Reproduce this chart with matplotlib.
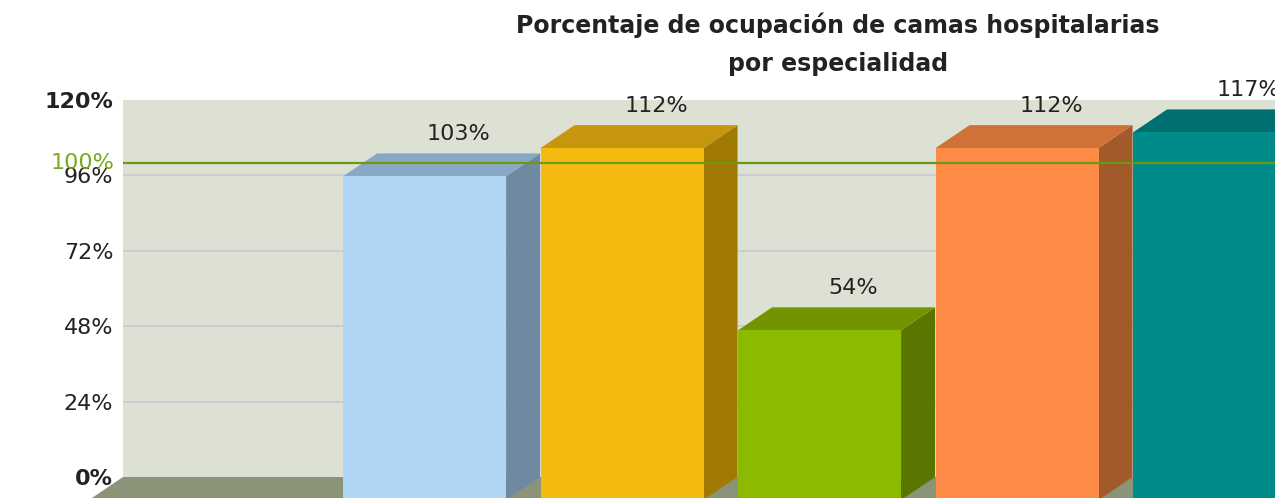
import matplotlib
matplotlib.use("Agg")
import matplotlib.pyplot as plt
from matplotlib.patches import Polygon, Rectangle
import numpy as np

# data (first slot of the chart is empty)
values = [103, 112, 54, 112, 117]
value_labels = ["103%", "112%", "54%", "112%", "117%"]
y_ticks = [0, 24, 48, 72, 96, 120]
y_tick_labels = ["0%", "24%", "48%", "72%", "96%", "120%"]
target = 100
title = "Porcentaje de ocupación de camas hospitalarias\npor especialidad"

front_colors = ["#b0d6f6", "#f5ba10", "#8cba00", "#ff8c46", "#008b8b"]
top_colors = ["#88a9c6", "#c8960c", "#739400", "#d0713a", "#006f6f"]
side_colors = ["#6f8aa0", "#a07a05", "#587600", "#a35a2b", "#005c5c"]

wall_color = "#dce1d4"
floor_color = "#8a9478"
grid_color = "#c8c8d0"
target_color = "#6b9a12"

fig = plt.figure(figsize=(12.75, 4.98), dpi=100)
ax = fig.add_axes([123 / 1275, 21 / 498, 1 - 123 / 1275, 377 / 498])

xmin, xmax = -0.699, 5.134
ax.set_xlim(xmin, xmax)
ax.set_ylim(0, 120)

# depth offset of the 3D look (in data units)
dx, dy = -0.172, -7.3
half = 0.4127

ax.add_patch(Rectangle((xmin, 0), xmax - xmin, 120, facecolor=wall_color,
                       edgecolor="none", zorder=0))
ax.hlines([t for t in y_ticks if 0 < t < 120], xmin, xmax, colors=grid_color,
          linewidth=1.2, zorder=1)

# floor
ax.add_patch(Polygon([(xmin, 0), (xmax + 1, 0), (xmax + 1 + dx, dy), (xmin + dx, dy)],
                     closed=True, facecolor=floor_color, edgecolor="none",
                     zorder=2, clip_on=False))

positions = np.arange(1, len(values) + 1)
for c, v, fc, tc, sc, lab in zip(positions, values, front_colors, top_colors,
                                 side_colors, value_labels):
    l, r = c - half, c + half
    side = Polygon([(r + dx, dy), (r + dx, v + dy), (r, v), (r, 0)], closed=True,
                   facecolor=sc, edgecolor="none", zorder=3, clip_on=False)
    top = Polygon([(l + dx, v + dy), (r + dx, v + dy), (r, v), (l, v)], closed=True,
                  facecolor=tc, edgecolor="none", zorder=3, clip_on=False)
    front = Rectangle((l + dx, dy), r - l, v, facecolor=fc, edgecolor="none",
                      zorder=4, clip_on=False)
    for p in (side, top, front):
        ax.add_patch(p)
    ax.text(c, v + 6.2, lab, ha="center", va="center", fontsize=16,
            color="#222222", zorder=6, clip_on=False)

ax.axhline(target, color=target_color, linewidth=1.6, zorder=5)

ax.set_yticks(y_ticks)
ax.set_yticklabels(y_tick_labels, fontsize=16, color="#222222")
for t in ax.get_yticklabels():
    if t.get_text() in ("0%", "120%"):
        t.set_fontweight("bold")
ax.tick_params(axis="y", length=0, pad=7)
ax.set_xticks([])
for s in ax.spines.values():
    s.set_visible(False)

ax.text(-0.007, target, "100%", transform=ax.get_yaxis_transform(), ha="right",
        va="center", fontsize=16, color="#7aa81e", zorder=6)

fig.text(838 / 1275, 1 - 44 / 498, title, ha="center", va="center",
         fontsize=17, fontweight="bold", color="#222222", linespacing=1.75)

fig.savefig("out.png", dpi=100)
